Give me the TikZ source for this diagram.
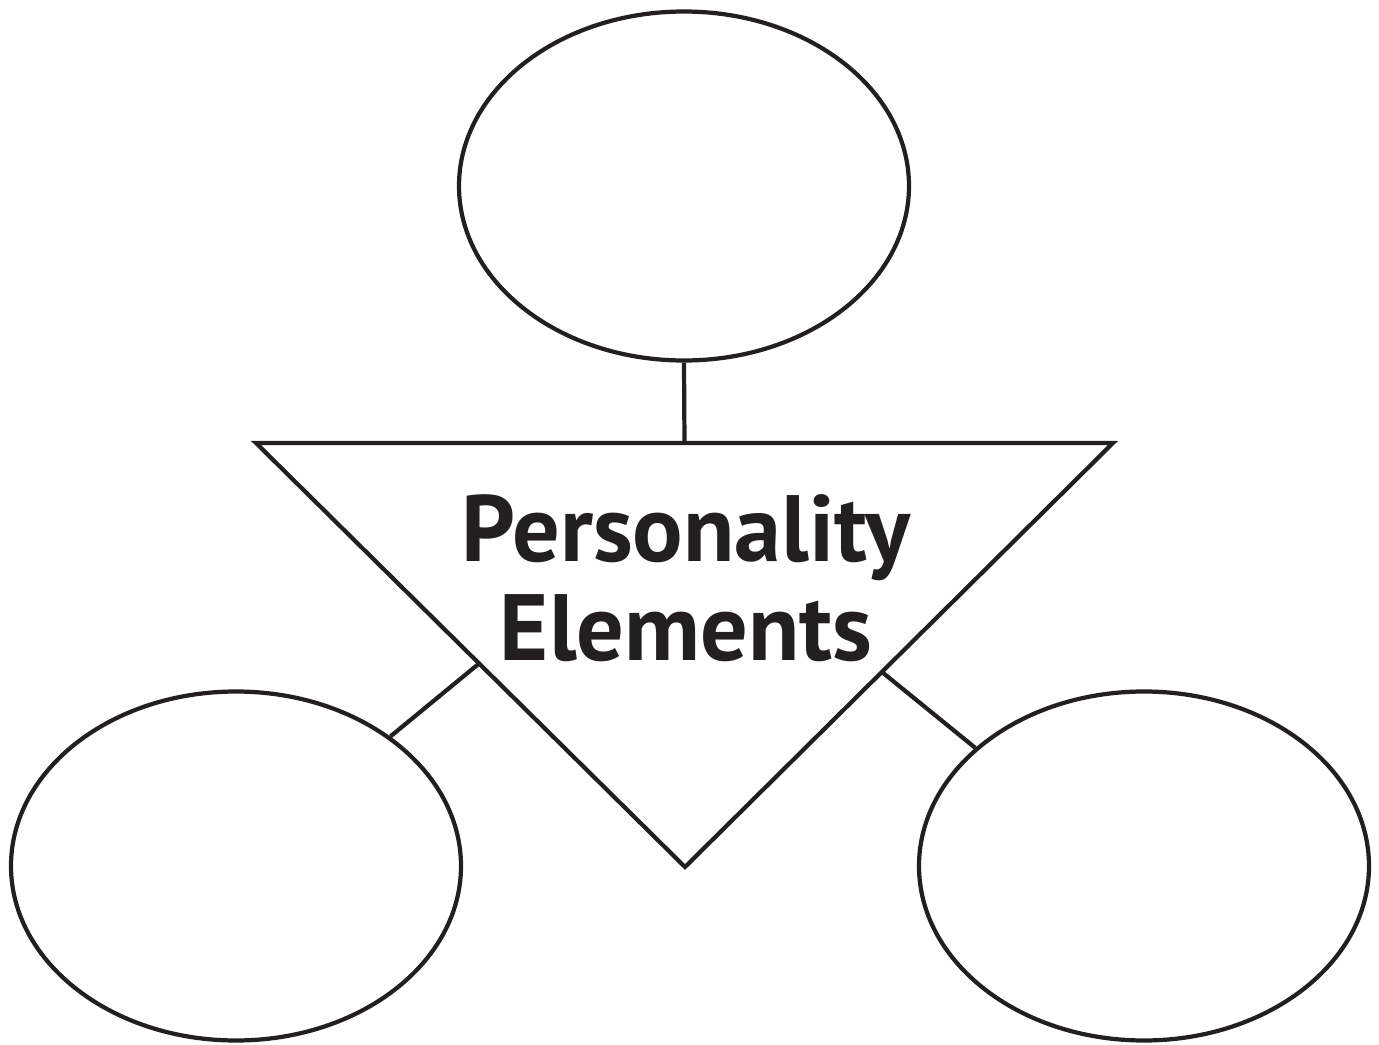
\documentclass[tikz,border=0pt]{standalone}
\usepackage{fontspec}
\setmainfont{PT Sans}
\usepackage{tikz}
\usetikzlibrary{shapes.geometric, calc}
\definecolor{inkblack}{RGB}{35,31,32}

\begin{document}
\begin{tikzpicture}[line width=1.2pt, inkblack,
    bubble/.style={draw, ellipse, inner sep=0pt, minimum width=4.50cm, minimum height=3.49cm}]
  \useasboundingbox (0,0) rectangle (13.79,10.44);
  % Three empty bubbles
  \node[bubble] (top) at (6.84, 8.58) {};
  \node[bubble] (left) at (2.36, 1.78) {};
  \node[bubble] (right) at (11.44, 1.78) {};

  % Central triangle
  \coordinate (tl) at (2.56, 6.01);
  \coordinate (tr) at (11.13, 6.01);
  \coordinate (tip) at (6.85, 1.77);
  \draw (tl) -- (tr) -- (tip) -- cycle;
  \coordinate (tt) at ($(tl)!0.5!(tr)$);
  \coordinate (tlm) at ($(tl)!0.52!(tip)$);
  \coordinate (trm) at ($(tr)!0.54!(tip)$);
  \node[font=\fontsize{26.8}{28}\selectfont\bfseries, align=center] (title) at (6.86, 4.66) {Personality\\Elements};

  % Connectors
  \draw (top.south) -- (tt);
  \draw (left.40) -- (tlm);
  \draw (right.145.6) -- (trm);
\end{tikzpicture}
\end{document}
